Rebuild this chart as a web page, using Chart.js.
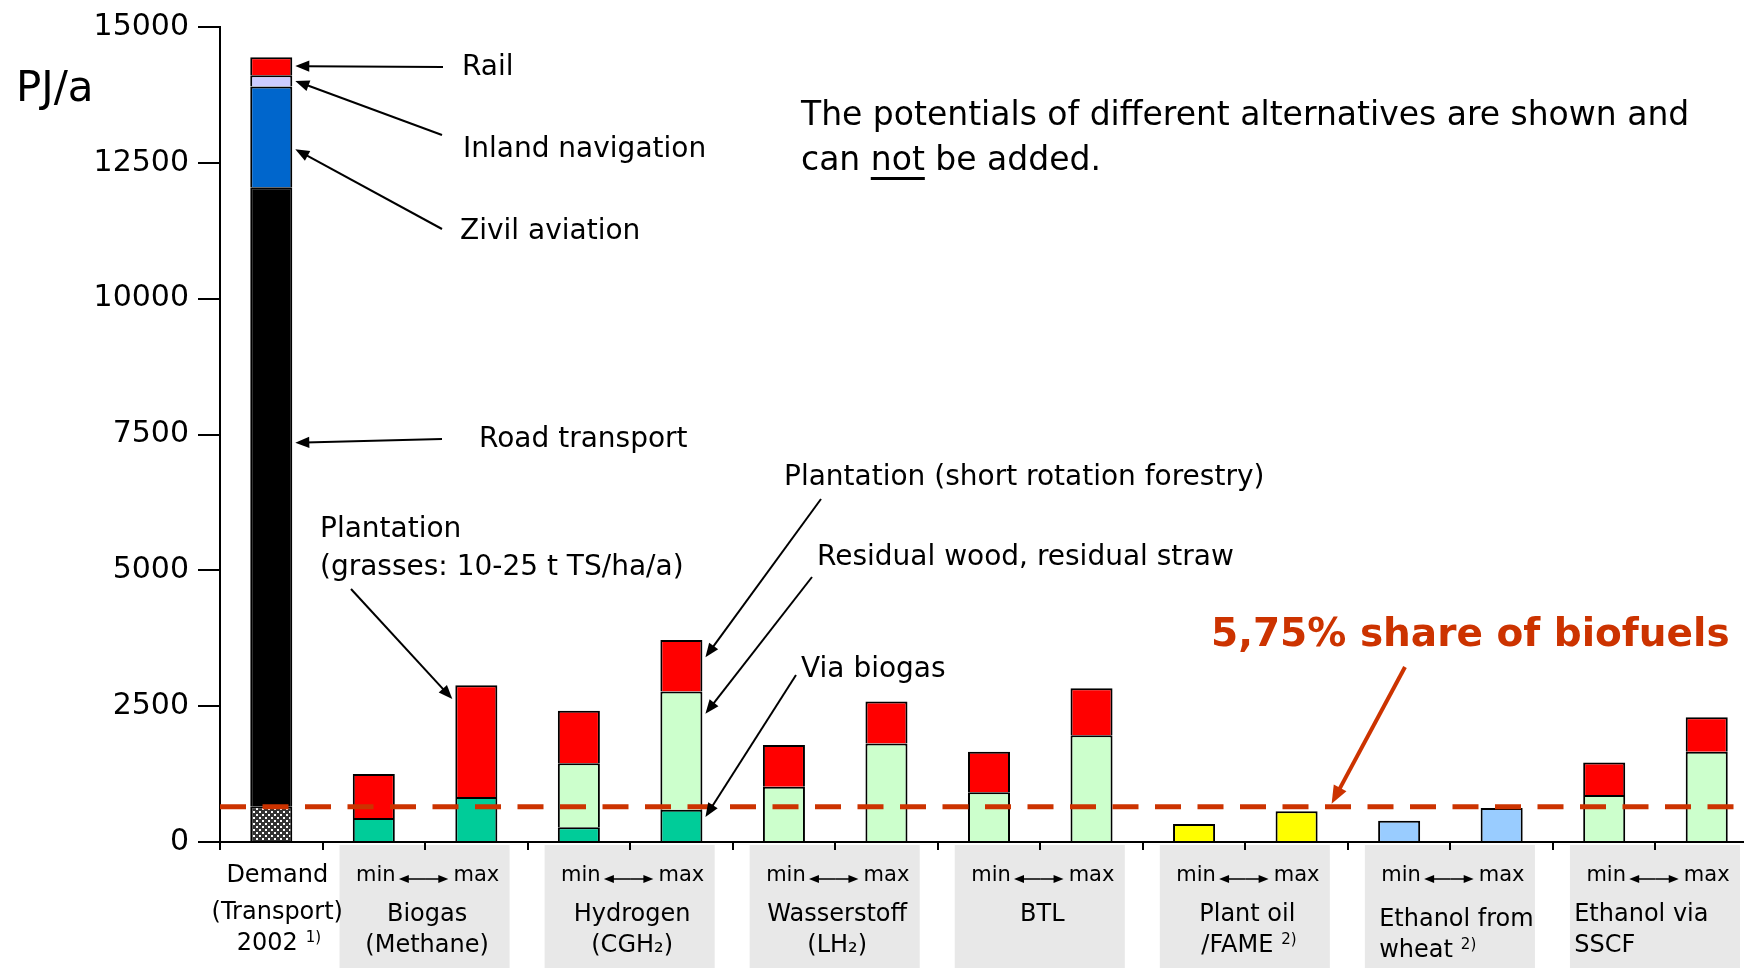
<!DOCTYPE html>
<html>
<head>
<meta charset="utf-8">
<script src="https://cdn.jsdelivr.net/npm/chart.js@4.4.1/dist/chart.umd.min.js"></script>
<style>
  html, body { margin: 0; padding: 0; background: #fff; overflow: hidden; }
  #potentials { position: absolute; left: 0; top: 0; }
</style>
</head>
<body>
<canvas id="potentials" width="1758" height="968"></canvas>
<script>
// one slot per bar (PJ/a)
const categories = ["Demand 2002", "Biogas min", "Biogas max", "Hydrogen min", "Hydrogen max",
    "Wasserstoff min", "Wasserstoff max", "BTL min", "BTL max", "Plant oil min", "Plant oil max",
    "Ethanol wheat min", "Ethanol wheat max", "Ethanol SSCF min", "Ethanol SSCF max"];

const demandBiofuelPart = [660, null, null, null, null, null, null, null, null, null, null, null, null, null, null];
const roadTransport     = [11390, null, null, null, null, null, null, null, null, null, null, null, null, null, null];
const civilAviation     = [1855, null, null, null, null, null, null, null, null, null, null, null, null, null, null];
const inlandNavigation  = [205, null, null, null, null, null, null, null, null, null, null, null, null, null, null];
const rail              = [335, null, null, null, null, null, null, null, null, null, null, null, null, null, null];
const viaBiogas    = [null, 440, 830, 270, 595, null, null, null, null, null, null, null, null, null, null];
const residualWood = [null, null, null, 1180, 2173, 1015, 1811, 916, 1965, null, null, null, null, 865, 1663];
const plantation   = [null, 810, 2055, 965, 950, 770, 777, 747, 863, null, null, null, null, 597, 632];
const plantOil     = [null, null, null, null, null, null, null, null, null, 330, 565, null, null, null, null];
const ethanolWheat = [null, null, null, null, null, null, null, null, null, null, null, 390, 626, null, null];

const biofuelShare = 650;
const yTicks = [0, 2500, 5000, 7500, 10000, 12500, 15000];

const groupNames = [["Demand", "(Transport)", "2002"], ["Biogas", "(Methane)"], ["Hydrogen", "(CGH₂)"],
    ["Wasserstoff", "(LH₂)"], ["BTL"], ["Plant oil", "/FAME"], ["Ethanol from", "wheat"], ["Ethanol via", "SSCF"]];
const groupNotes = ["1)", null, null, null, null, "2)", "2)", null];
const groupAlign = ["center", "center", "center", "center", "center", "center", "left", "left"];

const FONT = '"DejaVu Sans", Verdana, sans-serif';
const ORANGE = "#cc3300";
const DY = 3; // text baseline nudge

const canvas = document.querySelector("#potentials");
const ctx0 = canvas.getContext("2d");

function dotPattern() {
    const c = document.createElement("canvas");
    c.width = 6; c.height = 6;
    const g = c.getContext("2d");
    g.fillStyle = "#333";
    g.fillRect(0, 0, 6, 6);
    g.fillStyle = "#fff";
    g.fillRect(1, 1, 2, 2);
    g.fillRect(4, 4, 2, 2);
    return ctx0.createPattern(c, "repeat");
}

function arrow(ctx, x1, y1, x2, y2, width, color, head) {
    const a = Math.atan2(y2 - y1, x2 - x1);
    const c = Math.cos(a), s = Math.sin(a);
    ctx.save();
    ctx.strokeStyle = color;
    ctx.fillStyle = color;
    ctx.lineWidth = width;
    ctx.beginPath();
    ctx.moveTo(x1, y1);
    ctx.lineTo(x2 - c * head * 0.7, y2 - s * head * 0.7);
    ctx.stroke();
    ctx.beginPath();
    ctx.moveTo(x2, y2);
    ctx.lineTo(x2 - head * c + head * 0.4 * s, y2 - head * s - head * 0.4 * c);
    ctx.lineTo(x2 - head * c - head * 0.4 * s, y2 - head * s + head * 0.4 * c);
    ctx.closePath();
    ctx.fill();
    ctx.restore();
}

// callouts: label position, line tail, and the bar/value the arrow points at
const callouts = [
    { lines: ["Rail"], x: 462, y: 65, tail: [443, 65], bar: 0, value: 14280, side: 1 },
    { lines: ["Inland navigation"], x: 463, y: 147, tail: [442, 133], bar: 0, value: 14008, side: 1 },
    { lines: ["Zivil aviation"], x: 460, y: 229, tail: [442, 227], bar: 0, value: 12750, side: 1 },
    { lines: ["Road transport"], x: 479, y: 437, tail: [442, 437], bar: 0, value: 7350, side: 1 },
    { lines: ["Plantation", "(grasses: 10-25 t TS/ha/a)"], x: 320, y: 527, tail: [351, 587], bar: 2, value: 2630, side: -1 },
    { lines: ["Plantation (short rotation forestry)"], x: 784, y: 475, tail: [821, 497], bar: 4, value: 3400, side: 1 },
    { lines: ["Residual wood, residual straw"], x: 817, y: 555, tail: [812, 575], bar: 4, value: 2360, side: 1 },
    { lines: ["Via biogas"], x: 801, y: 667, tail: [796, 673], bar: 4, value: 460, side: 1 },
];

const decorations = {
    id: "decorations",
    beforeDraw(chart) {
        const { ctx, scales: { x } } = chart;
        const slot = (x.right - x.left) / categories.length;
        ctx.save();
        ctx.fillStyle = "#e8e8e8";
        for (let k = 1; k < groupNames.length; k++) {
            const left = x.getPixelForValue(2 * k - 1) - slot / 2 + 17;
            const right = x.getPixelForValue(2 * k) + slot / 2 - 18;
            ctx.fillRect(left, 845, right - left, chart.height - 845);
        }
        ctx.restore();
    },
    afterDatasetsDraw(chart) {
        const { ctx, chartArea, scales: { y } } = chart;
        const yy = y.getPixelForValue(biofuelShare);
        ctx.save();
        ctx.strokeStyle = ORANGE;
        ctx.lineWidth = 5;
        ctx.setLineDash([26, 16.5]);
        ctx.beginPath();
        ctx.moveTo(chartArea.left, yy);
        ctx.lineTo(chart.width, yy);
        ctx.stroke();
        ctx.restore();
    },
    afterDraw(chart) {
        const { ctx, scales: { x, y } } = chart;
        const slot = (x.right - x.left) / categories.length;
        const half = slot * 0.41 / 2;
        ctx.save();
        ctx.fillStyle = "#000";
        ctx.textBaseline = "middle";
        ctx.textAlign = "left";

        ctx.font = `42px ${FONT}`;
        ctx.fillText("PJ/a", 16, 87 + DY);

        // callouts
        ctx.font = `28px ${FONT}`;
        callouts.forEach(c => {
            c.lines.forEach((t, i) => ctx.fillText(t, c.x, c.y + DY + i * 38));
            const tx = x.getPixelForValue(c.bar) + c.side * (half + 3);
            const ty = y.getPixelForValue(c.value);
            arrow(ctx, c.tail[0], c.tail[1] + 2, tx, ty, 2, "#000", 14);
        });

        // note
        ctx.font = `33px ${FONT}`;
        ctx.fillText("The potentials of different alternatives are shown and", 801, 113 + DY);
        let px = 801;
        const ln2 = 158 + DY;
        ctx.fillText("can ", px, ln2);
        px += ctx.measureText("can ").width;
        ctx.fillText("not", px, ln2);
        const wNot = ctx.measureText("not").width;
        ctx.fillRect(px, ln2 + 16, wNot, 3);
        px += wNot;
        ctx.fillText(" be added.", px, ln2);

        // 5,75 % label and arrow
        const yy = y.getPixelForValue(biofuelShare);
        ctx.fillStyle = ORANGE;
        ctx.font = `bold 39px ${FONT}`;
        ctx.fillText("5,75% share of biofuels", 1211, 633 + DY);
        arrow(ctx, 1405, 667, x.getPixelForValue(10) + 35, yy - 3, 4, ORANGE, 18);

        // category labels
        ctx.fillStyle = "#000";
        groupNames.forEach((lines, k) => {
            let cx, rows, leftX = null;
            if (k === 0) {
                cx = x.getPixelForValue(0) + 6;
                rows = [873 + DY, 910 + DY, 941 + DY];
            } else {
                const xl = x.getPixelForValue(2 * k - 1), xr = x.getPixelForValue(2 * k);
                cx = (xl + xr) / 2 + 2;
                const drop = k === 6 ? 5 : 0;
                rows = [912 + DY + drop, 943 + DY + drop];
                if (groupAlign[k] === "left") leftX = xl - (k === 6 ? 20 : 30);
                ctx.font = `21px ${FONT}`;
                ctx.textAlign = "center";
                ctx.fillText("min", xl + 2, 873 + DY);
                ctx.fillText("max", xr, 873 + DY);
                const ay = 876 + DY;
                arrow(ctx, (xl + xr) / 2, ay, xr - 28, ay, 1.5, "#000", 10);
                arrow(ctx, (xl + xr) / 2, ay, xl + 25, ay, 1.5, "#000", 10);
            }
            ctx.textAlign = "left";
            lines.forEach((t, i) => {
                ctx.font = `24px ${FONT}`;
                const w = ctx.measureText(t).width;
                let sx = leftX !== null ? leftX : cx - w / 2;
                const note = (i === lines.length - 1) ? groupNotes[k] : null;
                if (note && leftX === null) sx -= 10;
                ctx.fillText(t, sx, rows[i]);
                if (note) {
                    ctx.font = `15px ${FONT}`;
                    ctx.fillText(note, sx + w + 8, rows[i] - 6);
                }
            });
        });
        ctx.restore();
    }
};

const bar = (label, data, color) => ({ label, data, backgroundColor: color, stack: "s" });

new Chart(canvas, {
    type: "bar",
    data: {
        labels: categories,
        datasets: [
            bar("Demand, biofuel part", demandBiofuelPart, dotPattern()),
            bar("Road transport", roadTransport, "#000000"),
            bar("Zivil aviation", civilAviation, "#0066cc"),
            bar("Inland navigation", inlandNavigation, "#ccccff"),
            bar("Rail", rail, "#ff0000"),
            bar("Via biogas", viaBiogas, "#00cc99"),
            bar("Residual wood, residual straw", residualWood, "#ccffcc"),
            bar("Plantation", plantation, "#ff0000"),
            bar("Plant oil /FAME", plantOil, "#ffff00"),
            bar("Ethanol from wheat", ethanolWheat, "#99ccff"),
        ],
    },
    options: {
        responsive: false,
        animation: false,
        devicePixelRatio: 1,
        layout: { padding: { left: 0, right: 0, top: 22, bottom: 0 } },
        datasets: {
            bar: { barPercentage: 0.41, categoryPercentage: 1, borderColor: "#000", borderWidth: 2 },
        },
        plugins: { legend: { display: false }, tooltip: { enabled: false } },
        scales: {
            x: {
                stacked: true,
                grid: { offset: true, drawOnChartArea: false, color: "#000", lineWidth: 2, tickLength: 8 },
                border: { color: "#000", width: 2 },
                ticks: { display: false },
                afterFit: s => { s.height = 126; },
            },
            y: {
                stacked: true,
                min: yTicks[0],
                max: yTicks[yTicks.length - 1],
                afterBuildTicks: s => { s.ticks = yTicks.map(v => ({ value: v })); },
                grid: { drawOnChartArea: false, color: "#000", lineWidth: 2, tickLength: 22 },
                border: { color: "#000", width: 2 },
                ticks: { color: "#000", padding: 9, font: { size: 30, family: FONT }, callback: v => String(v) },
                afterFit: s => { s.width = 220; },
            },
        },
    },
    plugins: [decorations],
});
</script>
</body>
</html>
